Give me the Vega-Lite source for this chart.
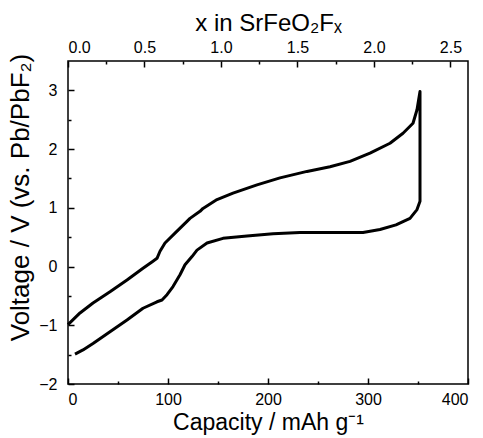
{
  "$schema": "https://vega.github.io/schema/vega-lite/v6.json",
  "width": 400,
  "height": 323,
  "autosize": {"type": "none"},
  "padding": {"left": 68, "top": 61, "right": 15, "bottom": 54},
  "background": "white",
  "config": {
    "view": {"stroke": "black", "strokeWidth": 1.5},
    "axis": {
      "labelFont": "Liberation Sans",
      "labelFontSize": 16,
      "labelColor": "black",
      "titleFont": "Liberation Sans",
      "titleFontSize": 24,
      "titleFontWeight": "normal",
      "titleColor": "black",
      "domain": false,
      "grid": false
    }
  },
  "datasets": {
    "curve": [
      {"i": 1, "cap": 0, "V": -0.99},
      {"i": 2, "cap": 12, "V": -0.79},
      {"i": 3, "cap": 25, "V": -0.62},
      {"i": 4, "cap": 42, "V": -0.43},
      {"i": 5, "cap": 59, "V": -0.23},
      {"i": 6, "cap": 75, "V": -0.03},
      {"i": 7, "cap": 85, "V": 0.09},
      {"i": 8, "cap": 89, "V": 0.14},
      {"i": 9, "cap": 92, "V": 0.26},
      {"i": 10, "cap": 97, "V": 0.4},
      {"i": 11, "cap": 107, "V": 0.57},
      {"i": 12, "cap": 119, "V": 0.77},
      {"i": 13, "cap": 122, "V": 0.82},
      {"i": 14, "cap": 132, "V": 0.94},
      {"i": 15, "cap": 135, "V": 0.99},
      {"i": 16, "cap": 149, "V": 1.14},
      {"i": 17, "cap": 165, "V": 1.25},
      {"i": 18, "cap": 189, "V": 1.39},
      {"i": 19, "cap": 212, "V": 1.51},
      {"i": 20, "cap": 239, "V": 1.62},
      {"i": 21, "cap": 262, "V": 1.7},
      {"i": 22, "cap": 282, "V": 1.79},
      {"i": 23, "cap": 302, "V": 1.93},
      {"i": 24, "cap": 322, "V": 2.1},
      {"i": 25, "cap": 335, "V": 2.27},
      {"i": 26, "cap": 345, "V": 2.44},
      {"i": 27, "cap": 349, "V": 2.67},
      {"i": 28, "cap": 352, "V": 2.98},
      {"i": 29, "cap": 352, "V": 1.11},
      {"i": 30, "cap": 349, "V": 0.97},
      {"i": 31, "cap": 342, "V": 0.82},
      {"i": 32, "cap": 328, "V": 0.71},
      {"i": 33, "cap": 312, "V": 0.63},
      {"i": 34, "cap": 295, "V": 0.58},
      {"i": 35, "cap": 272, "V": 0.58},
      {"i": 36, "cap": 232, "V": 0.58},
      {"i": 37, "cap": 205, "V": 0.56},
      {"i": 38, "cap": 179, "V": 0.52},
      {"i": 39, "cap": 155, "V": 0.48},
      {"i": 40, "cap": 139, "V": 0.4},
      {"i": 41, "cap": 129, "V": 0.28},
      {"i": 42, "cap": 124, "V": 0.17},
      {"i": 43, "cap": 117, "V": 0.03},
      {"i": 44, "cap": 112, "V": -0.14},
      {"i": 45, "cap": 105, "V": -0.34},
      {"i": 46, "cap": 99, "V": -0.48},
      {"i": 47, "cap": 94, "V": -0.57},
      {"i": 48, "cap": 89, "V": -0.6},
      {"i": 49, "cap": 75, "V": -0.71},
      {"i": 50, "cap": 59, "V": -0.91},
      {"i": 51, "cap": 42, "V": -1.11},
      {"i": 52, "cap": 25, "V": -1.31},
      {"i": 53, "cap": 15, "V": -1.42},
      {"i": 54, "cap": 7, "V": -1.49}
    ],
    "topaxis": [{"xv": 0}, {"xv": 2.5}]
  },
  "resolve": {
    "scale": {"x": "independent", "y": "independent"},
    "axis": {"x": "independent", "y": "independent"}
  },
  "layer": [
    {
      "data": {"name": "curve"},
      "mark": {"type": "line", "color": "black", "strokeWidth": 3, "strokeJoin": "round"},
      "encoding": {
        "x": {
          "field": "cap", "type": "quantitative",
          "scale": {"domain": [0, 400], "nice": false, "zero": false},
          "axis": {"orient": "bottom", "values": [0, 100, 200, 300, 400], "ticks": true, "tickColor": "black", "tickWidth": 1.5, "offset": -6, "tickSize": 6, "labelPadding": 7, "title": "Capacity / mAh g⁻¹", "titleFontSize": 23, "titlePadding": 4}
        },
        "y": {
          "field": "V", "type": "quantitative",
          "scale": {"domain": [-2, 3.5], "nice": false, "zero": false},
          "axis": {"orient": "left", "values": [-2, -1, 0, 1, 2, 3], "ticks": true, "tickColor": "black", "tickWidth": 1.5, "offset": -6, "tickSize": 6, "labelPadding": 11, "title": "Voltage / V (vs. Pb/PbF₂)", "titleFontSize": 26, "titlePadding": 5, "titleY": 136}
        },
        "order": {"field": "i", "type": "quantitative"}
      }
    },
    {
      "data": {"name": "curve"},
      "mark": {"type": "point", "opacity": 0},
      "encoding": {
        "x": {
          "field": "cap", "type": "quantitative",
          "scale": {"domain": [0, 400], "nice": false, "zero": false},
          "axis": {"orient": "bottom", "values": [50, 150, 250, 350], "ticks": true, "tickColor": "black", "tickWidth": 1.5, "offset": -3, "tickSize": 3, "labels": false, "title": null}
        },
        "y": {
          "field": "V", "type": "quantitative",
          "scale": {"domain": [-2, 3.5], "nice": false, "zero": false},
          "axis": {"orient": "left", "values": [-1.5, -0.5, 0.5, 1.5, 2.5], "ticks": true, "tickColor": "black", "tickWidth": 1.5, "offset": -3, "tickSize": 3, "labels": false, "title": null}
        }
      }
    },
    {
      "data": {"name": "topaxis"},
      "mark": {"type": "point", "opacity": 0},
      "encoding": {
        "x": {
          "field": "xv", "type": "quantitative",
          "scale": {"domain": [0, 2.615], "nice": false, "zero": false},
          "axis": {"orient": "top", "values": [0, 0.5, 1, 1.5, 2, 2.5], "format": ".1f", "ticks": true, "tickColor": "black", "tickWidth": 1.5, "offset": -6, "tickSize": 6, "labelPadding": 6, "title": "x in SrFeO₂Fₓ", "titleFontSize": 24, "titlePadding": 4}
        }
      }
    },
    {
      "data": {"name": "topaxis"},
      "mark": {"type": "point", "opacity": 0},
      "encoding": {
        "x": {
          "field": "xv", "type": "quantitative",
          "scale": {"domain": [0, 2.615], "nice": false, "zero": false},
          "axis": {"orient": "top", "values": [0.25, 0.75, 1.25, 1.75, 2.25], "ticks": true, "tickColor": "black", "tickWidth": 1.5, "offset": -3, "tickSize": 3, "labels": false, "title": null}
        }
      }
    }
  ]
}
